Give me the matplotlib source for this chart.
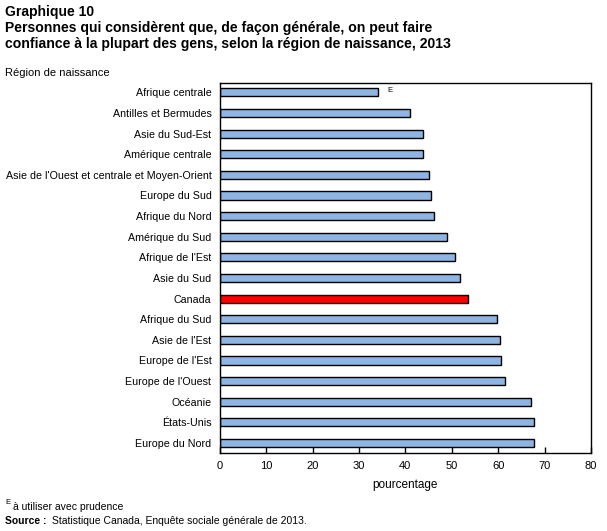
import matplotlib
matplotlib.use("Agg")
import matplotlib.pyplot as plt

plt.rcParams['font.family'] = ['Liberation Sans', 'DejaVu Sans']

# data (top to bottom)
regions = ["Afrique centrale", "Antilles et Bermudes", "Asie du Sud-Est", "Amérique centrale",
           "Asie de l'Ouest et centrale et Moyen-Orient", "Europe du Sud", "Afrique du Nord",
           "Amérique du Sud", "Afrique de l'Est", "Asie du Sud", "Canada", "Afrique du Sud",
           "Asie de l'Est", "Europe de l'Est", "Europe de l'Ouest", "Océanie", "États-Unis",
           "Europe du Nord"]
values = [34.0, 41.1, 43.7, 43.9, 45.2, 45.6, 46.1, 49.0, 50.6, 51.8, 53.6, 59.8,
          60.3, 60.7, 61.5, 67.1, 67.8, 67.8]
xticks = [0, 10, 20, 30, 40, 50, 60, 70, 80]

blue = "#8db4e2"
colors = ["red" if r == "Canada" else blue for r in regions]

fig = plt.figure(figsize=(6.07, 5.31), dpi=100)
ax = fig.add_axes([0.362, 0.1475, 0.6116, 0.6968])

ypos = list(range(len(regions)))
ax.barh(ypos, values, height=0.39, color=colors, edgecolor="black", linewidth=1)
ax.set_ylim(len(regions) - 0.53, -0.47)
ax.set_xlim(0, 80)
ax.set_yticks(ypos)
ax.set_yticklabels(regions, fontsize=7.7)
ax.tick_params(axis="y", length=0, pad=6)
ax.set_xticks(xticks)
ax.set_xticklabels([str(t) for t in xticks], fontsize=8)
ax.tick_params(axis="x", direction="in", length=4, width=1, pad=6)
for s in ax.spines.values():
    s.set_linewidth(1)

# superscript E for Afrique centrale
ax.text(values[0] + 2.2, 0 - 0.1, "E", fontsize=5.5, va="center", ha="left")

ax.set_xlabel("pourcentage", fontsize=8.5, labelpad=6)

fig.text(5 / 607, 1 - 12 / 531, "Graphique 10", fontsize=10, fontweight="bold", va="center")
fig.text(5 / 607, 1 - 28 / 531, "Personnes qui considèrent que, de façon générale, on peut faire",
         fontsize=10.1, fontweight="bold", va="center")
fig.text(5 / 607, 1 - 44 / 531, "confiance à la plupart des gens, selon la région de naissance, 2013",
         fontsize=10.1, fontweight="bold", va="center")
fig.text(5 / 607, 1 - 73 / 531, "Région de naissance", fontsize=8, va="center")

fig.text(5 / 607, 1 - 503 / 531, "E", fontsize=5.5, va="center")
fig.text(13 / 607, 1 - 507 / 531, "à utiliser avec prudence", fontsize=7.5, va="center")
fig.text(5 / 607, 1 - 521 / 531, "Source :", fontsize=7.5, fontweight="bold", va="center")
fig.text(52 / 607, 1 - 521 / 531, "Statistique Canada, Enquête sociale générale de 2013.",
         fontsize=7.5, va="center")

fig.savefig("out.png", dpi=100)
